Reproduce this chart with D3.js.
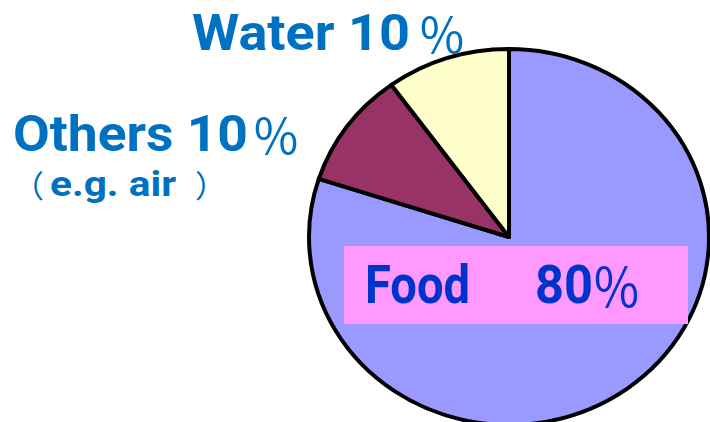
<!DOCTYPE html>
<html>
<head>
<meta charset="utf-8">
<script src="https://cdn.jsdelivr.net/npm/d3@7"></script>
<style>
  html, body { margin: 0; padding: 0; background: white; }
  svg { display: block; }
</style>
</head>
<body>
<main></main>
<script>
const categories = ['Food', 'Others', 'Water'];
const values = [80, 10, 10];
const numberLabels = ['80', '10', '10'];
const noteLabel = 'e.g. air';

const width = 710;
const height = 422;
const cx = 509;
const cy = 237;
const rx = 200;
const ry = 188;
const sliceColors = ['#9999ff', '#993366', '#ffffcc'];
const labelBlue = '#0070c0';
const foodBlue = '#0033cc';
const boxPink = '#ff99ff';
const labelFont = "'Comic Sans MS', Roboto, 'DejaVu Sans', sans-serif";
const pctFont = "'Noto Sans CJK SC', 'DejaVu Sans', sans-serif";

const svg = d3.select('main')
  .append('svg')
  .attr('width', width)
  .attr('height', height)

const pie = d3.pie()
  .sort(null)
  .value(d => d)

const arc = d3.arc()
  .innerRadius(0)
  .outerRadius(1)

// Pie (elliptical, as in the picture)
svg.append('g')
  .attr('transform', `translate(${cx}, ${cy}) scale(${rx}, ${ry})`)
  .selectAll('path')
  .data(pie(values))
  .enter()
  .append('path')
  .attr('d', arc)
  .attr('fill', (d, i) => sliceColors[i])
  .attr('stroke', 'black')
  .attr('stroke-width', 4)
  .attr('stroke-linejoin', 'round')
  .attr('vector-effect', 'non-scaling-stroke')

// Food label box
svg.append('rect')
  .attr('x', 344)
  .attr('y', 246)
  .attr('width', 344)
  .attr('height', 78)
  .attr('fill', boxPink)

// one piece of text fitted into [x0, x1]
const piece = (str, x0, x1, y, size, color, family, weight, adjust = 'spacingAndGlyphs') => {
  svg.append('text')
    .text(str)
    .attr('x', x0)
    .attr('y', y)
    .attr('textLength', x1 - x0)
    .attr('lengthAdjust', adjust)
    .style('font-family', family)
    .style('font-weight', weight)
    .style('font-size', `${size}px`)
    .style('fill', color)
}

// Water 10%
piece(`${categories[2]} ${numberLabels[2]}`, 192, 410, 50, 50, labelBlue, labelFont, 'bold')
piece('％', 418, 466, 54, 50, labelBlue, pctFont, 'normal')

// Others 10%
piece(`${categories[1]} ${numberLabels[1]}`, 13, 248, 151, 50, labelBlue, labelFont, 'bold')
piece('％', 252, 300, 155, 50, labelBlue, pctFont, 'normal')

// (e.g. air)
piece('（', 12, 44, 197, 31, labelBlue, pctFont, 'normal')
piece(noteLabel, 50, 176, 196, 35, labelBlue, labelFont, 'bold')
piece('）', 195, 227, 197, 31, labelBlue, pctFont, 'normal')

// Food 80%
piece(categories[0], 365, 470, 303, 53, foodBlue, labelFont, 'bold')
piece(numberLabels[0], 535, 593, 303, 53, foodBlue, labelFont, 'bold')
piece('％', 592, 641, 308, 54, foodBlue, pctFont, 'normal')
</script>
</body>
</html>
